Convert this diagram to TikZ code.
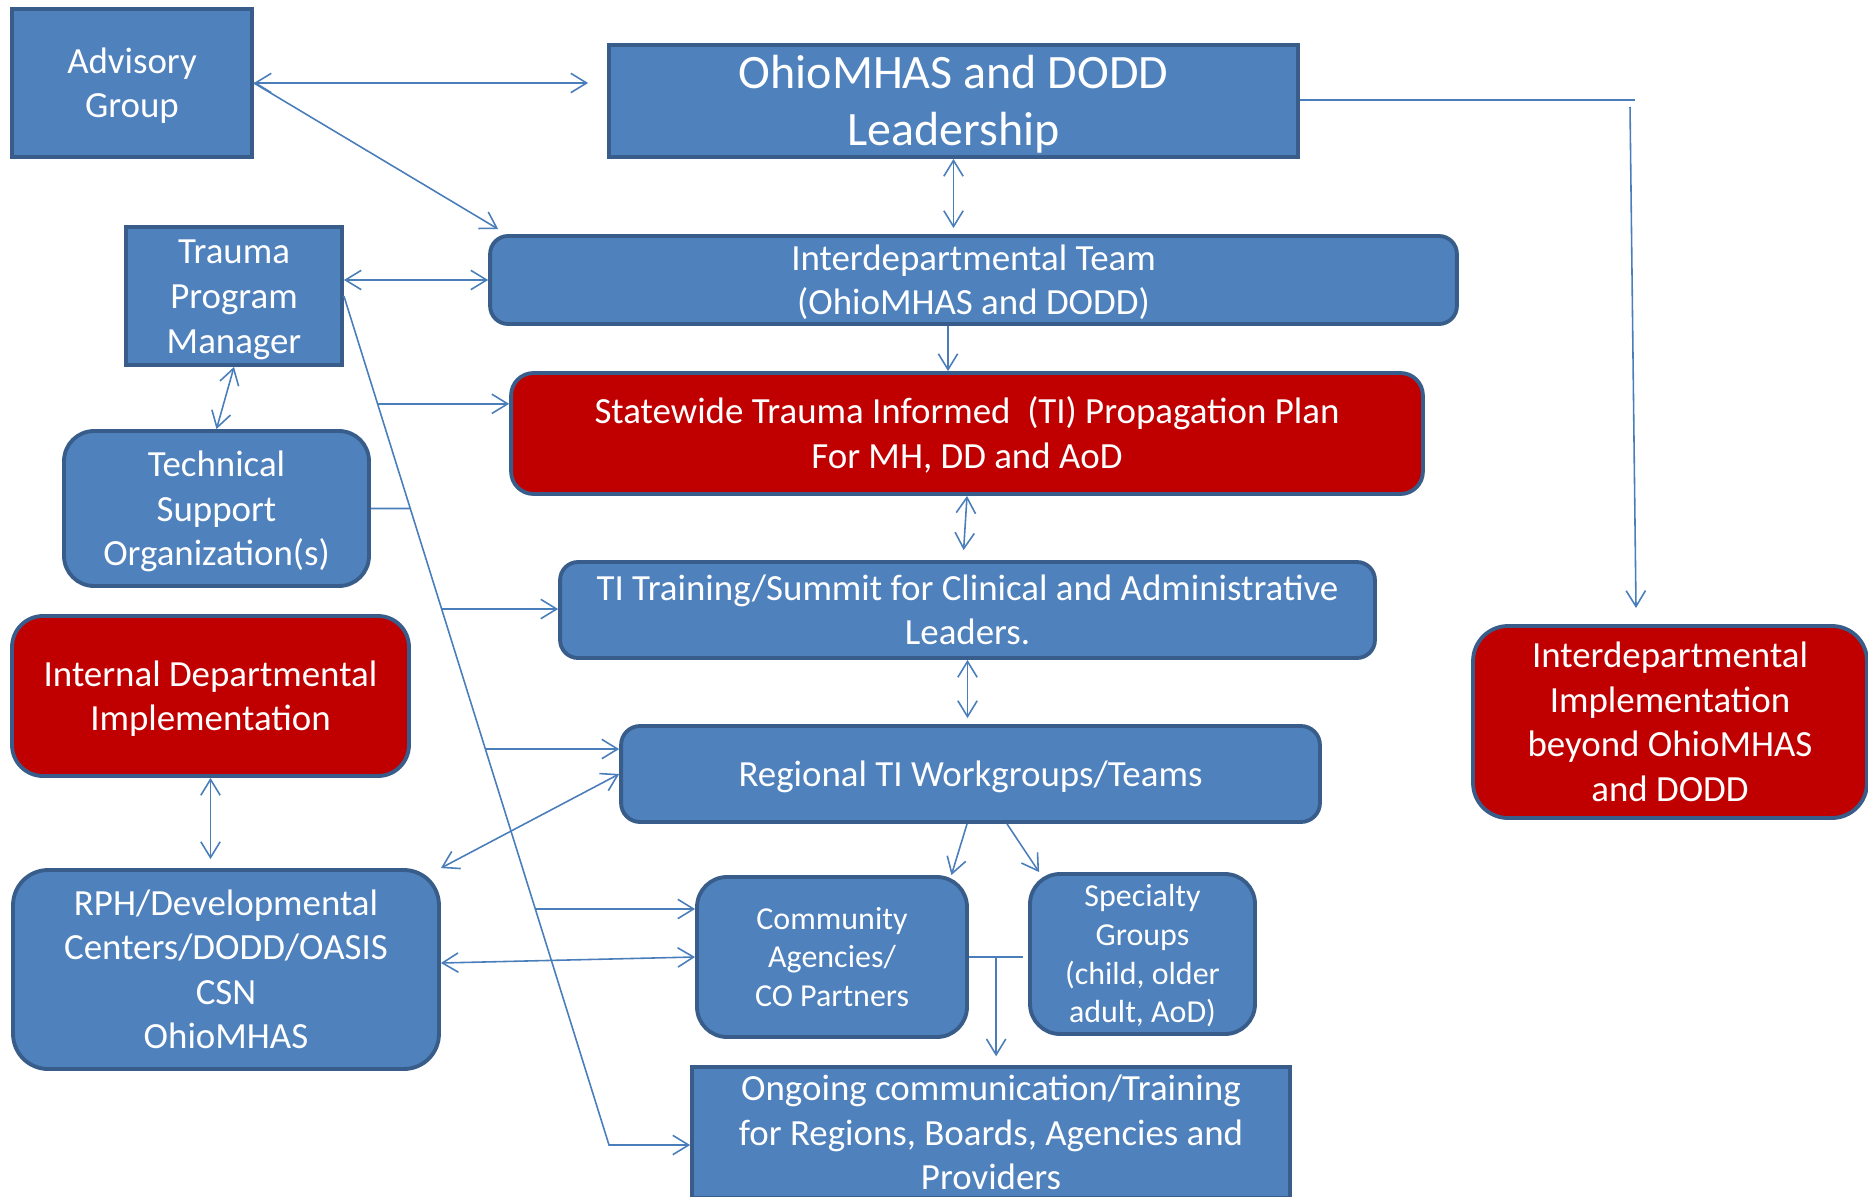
\documentclass[tikz,border=0pt]{standalone}
\usepackage{fontspec}
\setmainfont{Carlito}
\usetikzlibrary{arrows.meta,calc}
\definecolor{boxblue}{HTML}{4F81BD}
\definecolor{boxred}{HTML}{C00000}
\definecolor{boxline}{HTML}{385D8A}
\definecolor{linkblue}{HTML}{4A7EBB}
% struts so every box centres its lines the same way
\newcommand{\upstrut}{\rule{0pt}{0.9em}}
\newcommand{\downstrut}{\rule[-0.22em]{0pt}{0pt}}

\begin{document}
\begin{tikzpicture}[
    x=0.02cm, y=-0.02cm, % one unit is one pixel of the slide
    box/.style={draw=boxline, line width=2.2pt, fill=boxblue, text=white, align=center, inner sep=0pt, font=\fontsize{21}{25.4}\selectfont},
    redbox/.style={box, fill=boxred},
    small/.style={font=\fontsize{18.2}{22}\selectfont},
    link/.style={draw=linkblue, line width=0.9pt},
    >={Straight Barb[length=9pt,width=11pt]}
]
    \useasboundingbox (0,0) rectangle (1868,1196);

    % boxes
    \node [box, minimum width=4.80cm, minimum height=2.96cm] (adv) at (132,83) {\upstrut Advisory\\Group\downstrut};
    \node [box, minimum width=13.78cm, minimum height=2.24cm, font=\fontsize{27.3}{32.5}\selectfont] (lead) at (953.5,101) {\upstrut OhioMHAS and DODD\\Leadership\downstrut};
    \node [box, minimum width=4.32cm, minimum height=2.76cm] (trauma) at (234,296) {\upstrut Trauma\\Program\\Manager\downstrut};
    \node [box, rounded corners=0.36cm, minimum width=19.34cm, minimum height=1.76cm] (team) at (973.5,280) {\upstrut Interdepartmental Team\\(OhioMHAS and DODD)\downstrut};
    \node [redbox, rounded corners=0.45cm, minimum width=18.24cm, minimum height=2.42cm] (plan) at (967,433.5) {\upstrut Statewide Trauma Informed~ (TI) Propagation Plan\\For MH, DD and AoD\downstrut};
    \node [box, rounded corners=0.6cm, minimum width=6.10cm, minimum height=3.10cm] (tech) at (216.5,508.5) {\upstrut Technical\\Support\\Organization(s)\downstrut};
    \node [box, rounded corners=0.36cm, minimum width=16.30cm, minimum height=1.92cm] (train) at (967.5,610) {\upstrut TI Training/Summit for Clinical and Administrative\\Leaders.\downstrut};
    \node [redbox, rounded corners=0.62cm, minimum width=7.94cm, minimum height=3.20cm] (internal) at (210.5,696) {\upstrut Internal Departmental\\Implementation\downstrut};
    \node [box, rounded corners=0.38cm, minimum width=13.98cm, minimum height=1.92cm] (regional) at (970.5,774) {\upstrut Regional TI Workgroups/Teams\downstrut};
    \node [redbox, rounded corners=0.7cm, minimum width=7.88cm, minimum height=3.84cm] (beyond) at (1670,722) {\upstrut Interdepartmental\\Implementation\\beyond OhioMHAS\\and DODD\downstrut};
    \node [box, rounded corners=0.7cm, minimum width=8.52cm, minimum height=3.98cm] (rph) at (226,969.5) {\upstrut RPH/Developmental\\Centers/DODD/OASIS\\CSN\\OhioMHAS\downstrut};
    \node [box, small, rounded corners=0.6cm, minimum width=5.40cm, minimum height=3.20cm] (comm) at (832,957) {\upstrut Community\\Agencies/\\CO Partners\downstrut};
    \node [box, small, rounded corners=0.6cm, minimum width=4.50cm, minimum height=3.20cm] (spec) at (1142.5,954) {\upstrut Specialty\\Groups\\(child, older\\adult, AoD)\downstrut};
    \node [box, minimum width=11.96cm, minimum height=2.54cm] (ongoing) at (991,1132.5) {\upstrut Ongoing communication/Training\\for Regions, Boards, Agencies and\\Providers\downstrut};

    % top links
    \draw [link, <->, shorten >=0.38cm] (adv.east) -- (adv.east -| lead.west);
    \draw [link, ->] (adv.east) -- ([xshift=0.2cm,yshift=0.1cm]team.north west);
    \draw [link, <->, shorten >=0.12cm] (lead.south) -- (lead.south |- team.north);
    \coordinate (elbow) at (1635,100);
    \coordinate (dropTop) at (1630,107);
    \coordinate (dropEnd) at (1636,608);
    \draw [link] (lead.east |- elbow) -- (elbow);
    \draw [link, ->] (dropTop) -- (dropEnd);
    \draw [link, <->] (trauma.east |- team.west) -- (team.west);
    \draw [link, <->] (trauma.south) -- (tech.north);
    \coordinate (tdrop) at ([xshift=-0.51cm]team.south);
    \draw [link, ->] (tdrop) -- (tdrop |- plan.north);

    % long line from the manager and its branches
    \coordinate (diagEnd) at (609,1145);
    \draw [link, ->] (trauma.east) -- (diagEnd) -- (diagEnd -| ongoing.west);
    \path (trauma.east) -- (diagEnd)
        coordinate[pos=0.127] (jPlan)
        coordinate[pos=0.2503] (jTech)
        coordinate[pos=0.3687] (jTrain)
        coordinate[pos=0.5336] (jReg)
        coordinate[pos=0.722] (jComm);
    \draw [link, ->] (jPlan) -- (jPlan -| plan.west);
    \draw [link] (tech.east) -- (jTech);
    \draw [link, ->] (jTrain) -- (jTrain -| train.west);
    \draw [link, ->] (jReg) -- (jReg -| regional.west);
    \draw [link, ->] (jComm) -- (jComm -| comm.west);

    % middle column
    \draw [link, <->, shorten >=0.2cm] (plan.south) -- ([xshift=-0.08cm]plan.south |- train.north);
    \draw [link, <->, shorten >=0.12cm] (train.south) -- (train.south |- regional.north);
    \draw [link, <->, shorten >=0.18cm] (internal.south) -- (internal.south |- rph.north);
    \draw [link, <->] (rph.north east) -- (regional.west);
    \draw [link, <->] ([yshift=0.13cm]rph.east) -- (comm.west);
    \draw [link, ->] ([xshift=-0.07cm]regional.south) -- ([xshift=-0.35cm]comm.north east);
    \draw [link, ->] ([xshift=0.73cm]regional.south) -- ([xshift=0.22cm]spec.north west);

    % bottom
    \draw [link, shorten >=0.1cm] (comm.east) -- (comm.east -| spec.west);
    \coordinate (split) at ($(comm.east)!0.46!(comm.east -| spec.west)$);
    \draw [link, ->, shorten >=0.18cm] (split) -- (split |- ongoing.north);
\end{tikzpicture}
\end{document}
